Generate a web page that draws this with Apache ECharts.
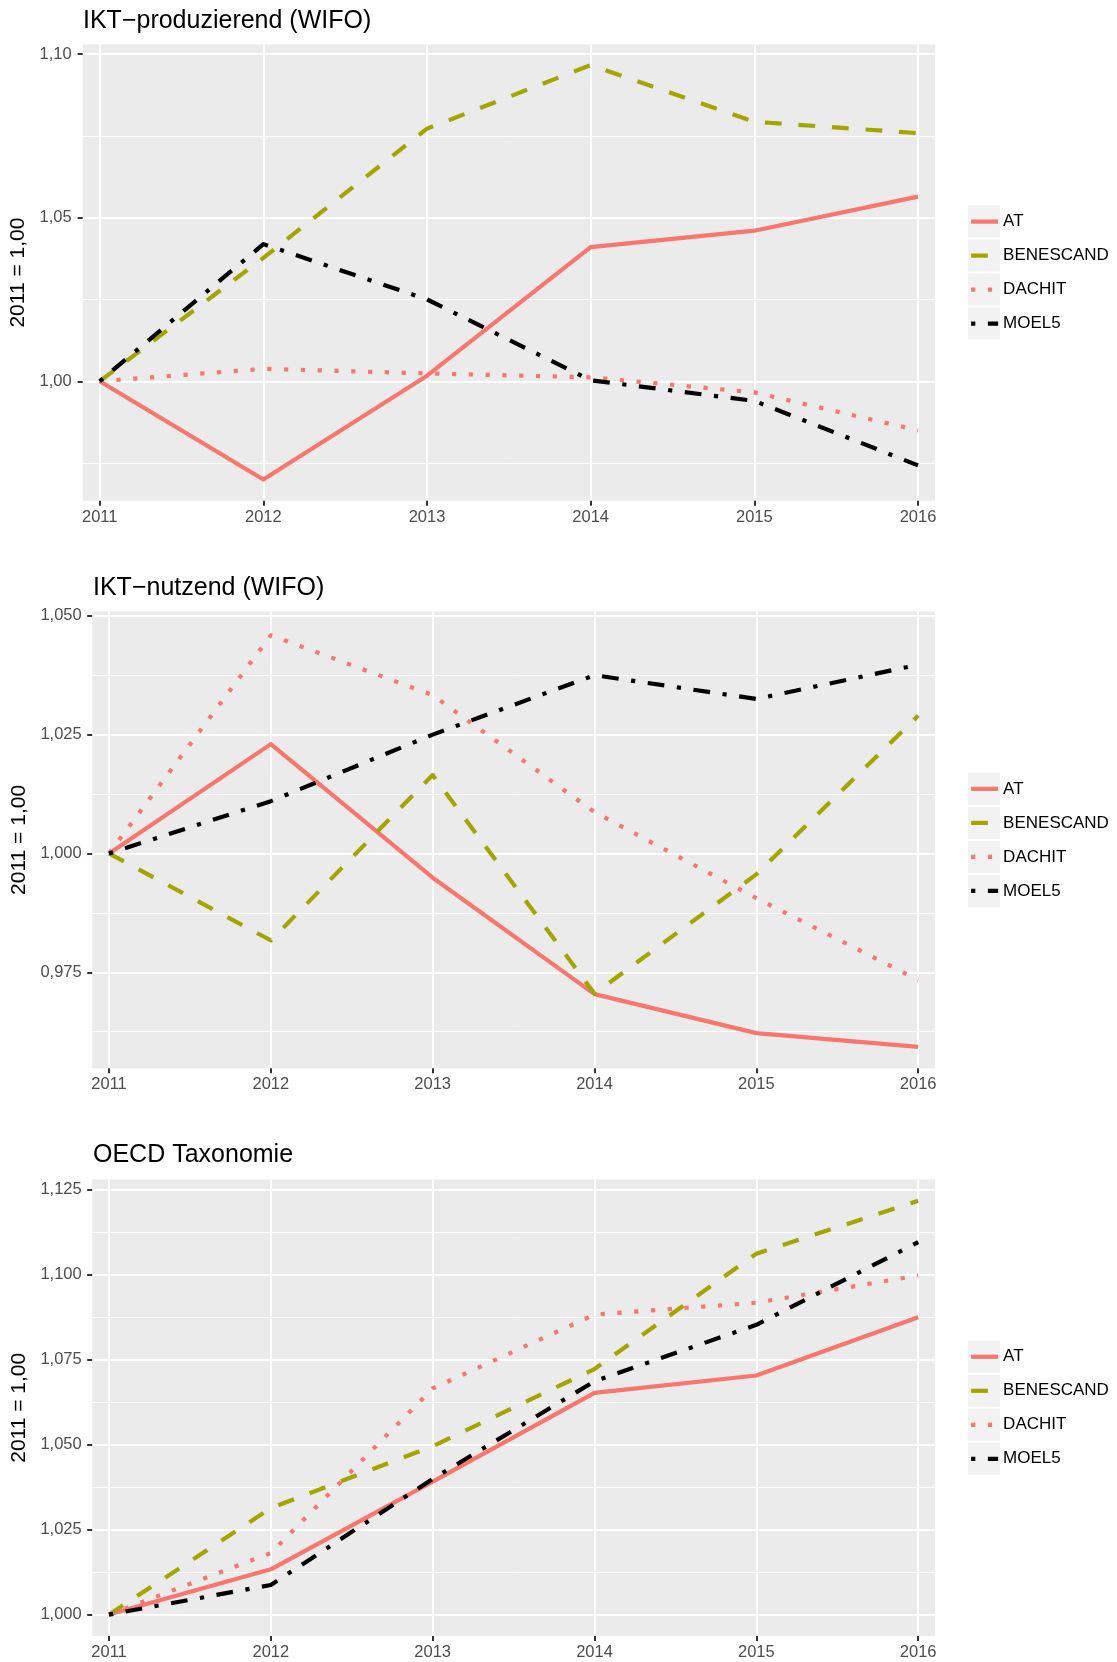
<!DOCTYPE html>
<html><head><meta charset="utf-8">
<script src="https://cdn.jsdelivr.net/npm/echarts@6/dist/echarts.min.js"></script>
<style>html,body{margin:0;padding:0;background:#fff}#c{width:1117px;height:1662px}</style>
</head><body><div id="c"></div>
<script>
// ---------- data ----------
const years = [2011, 2012, 2013, 2014, 2015, 2016];
const seriesNames = ['AT', 'BENESCAND', 'DACHIT', 'MOEL5'];
const panelTitles = ['IKT−produzierend (WIFO)', 'IKT−nutzend (WIFO)', 'OECD Taxonomie'];
const yAxisTitle = '2011 = 1,00';

// Panel 1: IKT-produzierend (WIFO)
const prodAT        = [1.000, 0.970, 1.0017, 1.041, 1.046, 1.0564];
const prodBENESCAND = [1.000, 1.0377, 1.0772, 1.0966, 1.0793, 1.0758];
const prodDACHIT    = [1.000, 1.0038, 1.0024, 1.0012, 0.9966, 0.985];
const prodMOEL5     = [1.000, 1.0419, 1.025, 1.0003, 0.994, 0.9743];
const prodRange = [0.9635, 1.1029];
const prodMajorTicks = [1.00, 1.05, 1.10];
const prodMinorTicks = [0.975, 1.025, 1.075];

// Panel 2: IKT-nutzend (WIFO)
const nutzAT        = [1.000, 1.023, 0.9949, 0.9704, 0.9622, 0.9593];
const nutzBENESCAND = [1.000, 0.9817, 1.0165, 0.9705, 0.9956, 1.029];
const nutzDACHIT    = [1.000, 1.0459, 1.0333, 1.0087, 0.9906, 0.9734];
const nutzMOEL5     = [1.000, 1.011, 1.025, 1.0375, 1.0325, 1.0397];
const nutzRange = [0.9548, 1.0509];
const nutzMajorTicks = [0.975, 1.000, 1.025, 1.050];
const nutzMinorTicks = [0.9625, 0.9875, 1.0125, 1.0375];

// Panel 3: OECD Taxonomie
const oecdAT        = [1.000, 1.0133, 1.0391, 1.0652, 1.0703, 1.0874];
const oecdBENESCAND = [1.000, 1.0313, 1.0495, 1.0722, 1.1061, 1.1217];
const oecdDACHIT    = [1.000, 1.0181, 1.0665, 1.0882, 1.0917, 1.0997];
const oecdMOEL5     = [1.000, 1.0087, 1.0399, 1.0686, 1.0852, 1.1095];
const oecdRange = [0.9937, 1.1279];
const oecdMajorTicks = [1.000, 1.025, 1.050, 1.075, 1.100, 1.125];
const oecdMinorTicks = [1.0125, 1.0375, 1.0625, 1.0875, 1.1125];

const xRange = [2010.896, 2016.104];

// ---------- styling / layout ----------
const FONT = '"Liberation Sans", Arial, Helvetica, sans-serif';
const LW = 4.2;
const styles = {
  AT:        { color: '#F8766D', type: 'solid' },
  BENESCAND: { color: '#A3A500', type: [4 * LW, 4 * LW] },
  DACHIT:    { color: '#F8766D', type: [1 * LW, 3 * LW] },
  MOEL5:     { color: '#000000', type: [1 * LW, 3 * LW, 4 * LW, 3 * LW] }
};

const panels = [
  { title: panelTitles[0], left: 82.7, top: 44.5, height: 456.2, titleTop: 9,    titleLeft: 83,
    range: prodRange, major: prodMajorTicks, minor: prodMinorTicks, dec: 2, labelMargin: 11, nameGap: 50,
    data: [prodAT, prodBENESCAND, prodDACHIT, prodMOEL5] },
  { title: panelTitles[1], left: 92.2, top: 611.5, height: 456.8, titleTop: 576, titleLeft: 93,
    range: nutzRange, major: nutzMajorTicks, minor: nutzMinorTicks, dec: 3, labelMargin: 10.5, nameGap: 60,
    data: [nutzAT, nutzBENESCAND, nutzDACHIT, nutzMOEL5] },
  { title: panelTitles[2], left: 92.2, top: 1179.6, height: 456.4, titleTop: 1143, titleLeft: 93,
    range: oecdRange, major: oecdMajorTicks, minor: oecdMinorTicks, dec: 3, labelMargin: 10.5, nameGap: 60,
    data: [oecdAT, oecdBENESCAND, oecdDACHIT, oecdMOEL5] }
];
const PANEL_RIGHT = 935;
const KEY_LEFT = 968, KEY_W = 32, KEY_H = 32, KEY_PITCH = 34;

const option = {
  animation: false,
  backgroundColor: '#ffffff',
  textStyle: { fontFamily: FONT },
  title: [], grid: [], xAxis: [], yAxis: [], series: [], legend: [], graphic: []
};

panels.forEach((p, i) => {
  option.title.push({
    text: p.title, left: p.titleLeft, top: p.titleTop, padding: 0,
    textStyle: { fontFamily: FONT, fontSize: 25, fontWeight: 'normal', color: '#000' }
  });
  option.grid.push({
    left: p.left, top: p.top, width: PANEL_RIGHT - p.left, height: p.height,
    show: true, backgroundColor: '#EBEBEB', borderWidth: 0, containLabel: false, outerBoundsMode: 'none'
  });
  option.xAxis.push({
    type: 'value', gridIndex: i, min: xRange[0], max: xRange[1],
    axisLine: { show: false },
    axisTick: { show: true, customValues: years, length: 5, lineStyle: { color: '#333333', width: 2 } },
    axisLabel: { show: true, customValues: years, margin: 8, color: '#4D4D4D', fontSize: 16.5, fontFamily: FONT,
                 formatter: v => String(Math.round(v)) },
    splitLine: { show: true, lineStyle: { color: '#FFFFFF', width: 2 } }
  });
  // main y axis
  option.yAxis.push({
    type: 'value', gridIndex: i, min: p.range[0], max: p.range[1], position: 'left',
    name: yAxisTitle, nameLocation: 'middle', nameRotate: 90, nameGap: p.nameGap,
    nameTextStyle: { fontSize: 21, color: '#000', fontFamily: FONT },
    axisLine: { show: false },
    axisTick: { show: true, customValues: p.major, length: 5, lineStyle: { color: '#333333', width: 2 } },
    axisLabel: { show: true, customValues: p.major, margin: p.labelMargin, color: '#4D4D4D', fontSize: 16.5, fontFamily: FONT,
                 formatter: v => v.toFixed(p.dec).replace('.', ',') },
    splitLine: { show: true, lineStyle: { color: '#FFFFFF', width: 2 } },
    z: 1
  });
  // minor gridline axis
  option.yAxis.push({
    type: 'value', gridIndex: i, min: p.range[0], max: p.range[1], position: 'left',
    axisLine: { show: false },
    axisTick: { show: false, customValues: p.minor },
    axisLabel: { show: false, customValues: p.minor },
    splitLine: { show: true, lineStyle: { color: '#FFFFFF', width: 1 } },
    z: 0
  });
  seriesNames.forEach((name, k) => {
    option.series.push({
      type: 'line', name: name, xAxisIndex: i, yAxisIndex: 2 * i,
      data: years.map((y, j) => [y, p.data[k][j]]),
      symbol: 'none', showSymbol: false, smooth: false, z: 3 + k,
      lineStyle: { color: styles[name].color, width: LW, type: styles[name].type, cap: 'butt', join: 'round' },
      itemStyle: { color: styles[name].color },
      emphasis: { disabled: true }
    });
  });
  const center = p.top + p.height / 2;
  const firstKeyTop = center - 2 * KEY_PITCH + 1;
  option.legend.push({
    orient: 'vertical', left: KEY_LEFT + 1, top: firstKeyTop + KEY_H / 2 - 10, padding: 0,
    itemWidth: 27, itemHeight: 20, itemGap: KEY_PITCH - 20, selectedMode: false,
    textStyle: { fontFamily: FONT, fontSize: 17, color: '#000', lineHeight: 20 },
    data: seriesNames.map(n => ({
      name: n,
      lineStyle: { color: styles[n].color, width: LW, type: styles[n].type, cap: 'butt' },
      itemStyle: { color: 'rgba(0,0,0,0)', borderWidth: 0, opacity: 0 }
    }))
  });
  seriesNames.forEach((n, k) => {
    option.graphic.push({
      type: 'rect', z: 0, silent: true,
      shape: { x: KEY_LEFT, y: firstKeyTop + k * KEY_PITCH, width: KEY_W, height: KEY_H },
      style: { fill: '#F2F2F2' }
    });
  });
});

const chart = echarts.init(document.getElementById('c'), null, { renderer: 'canvas' });
chart.setOption(option);
</script>
</body></html>
